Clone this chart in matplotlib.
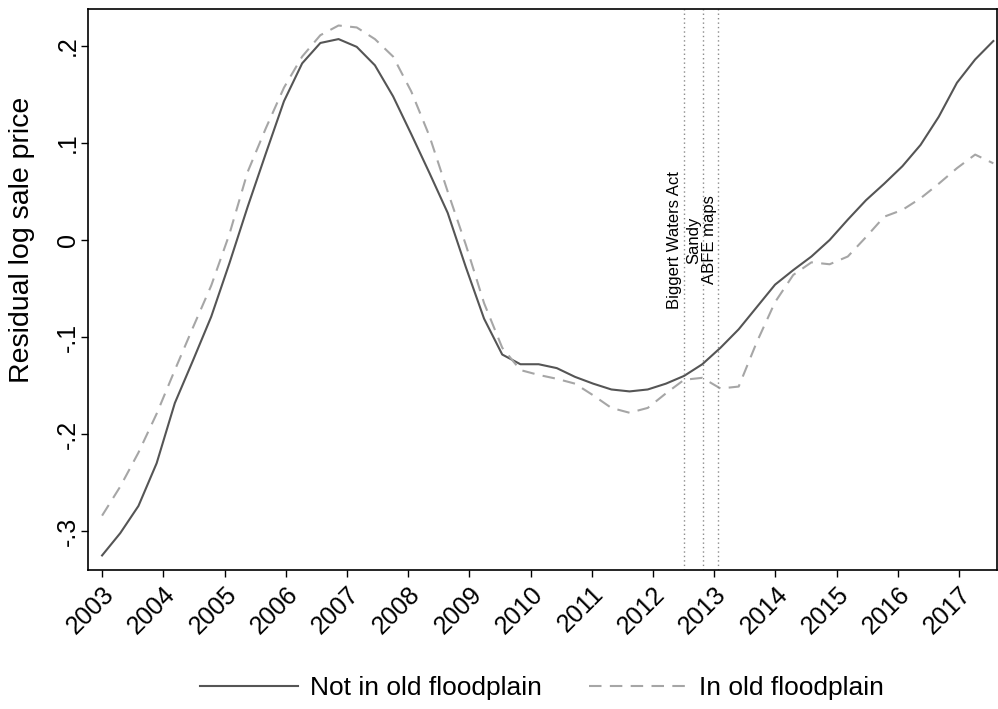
import numpy as np
import matplotlib
matplotlib.use("Agg")
import matplotlib.pyplot as plt

plt.rcParams['font.family'] = ['Liberation Sans', 'DejaVu Sans']

# time grid: 50 evenly spaced periods, 2003 to mid-2017
periods = np.linspace(2003.0, 2017.56, 50)

not_floodplain = [
    -0.325, -0.302, -0.274, -0.230, -0.168, -0.124, -0.079, -0.024, 0.034, 0.089,
    0.143, 0.182, 0.203, 0.207, 0.199, 0.180, 0.148, 0.109, 0.069, 0.028,
    -0.028, -0.081, -0.118, -0.128, -0.128, -0.132, -0.141, -0.148, -0.154, -0.156,
    -0.154, -0.148, -0.140, -0.128, -0.111, -0.092, -0.069, -0.046, -0.031, -0.017,
    0.000, 0.021, 0.041, 0.058, 0.076, 0.098, 0.127, 0.162, 0.186, 0.205,
]

in_floodplain = [
    -0.284, -0.254, -0.219, -0.179, -0.134, -0.090, -0.047, 0.006, 0.070, 0.115,
    0.157, 0.189, 0.211, 0.221, 0.219, 0.207, 0.189, 0.153, 0.107, 0.050,
    -0.005, -0.065, -0.111, -0.134, -0.139, -0.143, -0.148, -0.160, -0.173, -0.178,
    -0.173, -0.158, -0.144, -0.142, -0.153, -0.151, -0.105, -0.064, -0.036, -0.023,
    -0.025, -0.017, 0.003, 0.024, 0.031, 0.043, 0.058, 0.074, 0.088, 0.079,
]

event_dates = [2012.50, 2012.82, 2013.07]
event_labels = ['Biggert Waters Act', 'Sandy', 'ABFE maps']

year_ticks = list(range(2003, 2018))
y_ticks = [-0.3, -0.2, -0.1, 0.0, 0.1, 0.2]
y_tick_labels = ['-.3', '-.2', '-.1', '0', '.1', '.2']

fig = plt.figure(figsize=(9.98, 7.09), dpi=100)
ax = fig.add_axes([88 / 998, 139 / 709, 909 / 998, 561 / 709])

ax.plot(periods, not_floodplain, color='#555555', linewidth=1.5,
        label='Not in old floodplain')
ax.plot(periods, in_floodplain, color='#a6a6a6', linewidth=1.5,
        linestyle=(0, (6, 4)), label='In old floodplain')

for date, lab in zip(event_dates, event_labels):
    ax.axvline(date, color='#8a8a8a', linewidth=1.0, linestyle=(0, (1, 2.2)))
    ax.text(date - 0.03, 0.0, lab, rotation=90, ha='right', va='center',
            fontsize=12)

ax.set_xlim(2002.77, 2017.62)
ax.set_ylim(-0.340, 0.238)

ax.set_xticks(year_ticks)
ax.set_xticklabels([str(y) for y in year_ticks], rotation=45, ha='right',
                   rotation_mode='anchor', fontsize=18)
ax.set_yticks(y_ticks)
ax.set_yticklabels(y_tick_labels, rotation=90, va='center', fontsize=18)
ax.tick_params(axis='both', direction='out', length=5, width=1)
ax.tick_params(axis='y', pad=1)
ax.set_ylabel('Residual log sale price', fontsize=20.5)
ax.yaxis.set_label_coords(-0.058, 0.588)

for side in ['top', 'right', 'left', 'bottom']:
    ax.spines[side].set_linewidth(1.2)

fig.legend(loc='center', bbox_to_anchor=(542 / 998, 1 - 688 / 709), ncol=2,
           frameon=False, fontsize=19, handlelength=3.7, handletextpad=0.45,
           columnspacing=1.8)

fig.savefig('out.png', dpi=100, facecolor='white')
